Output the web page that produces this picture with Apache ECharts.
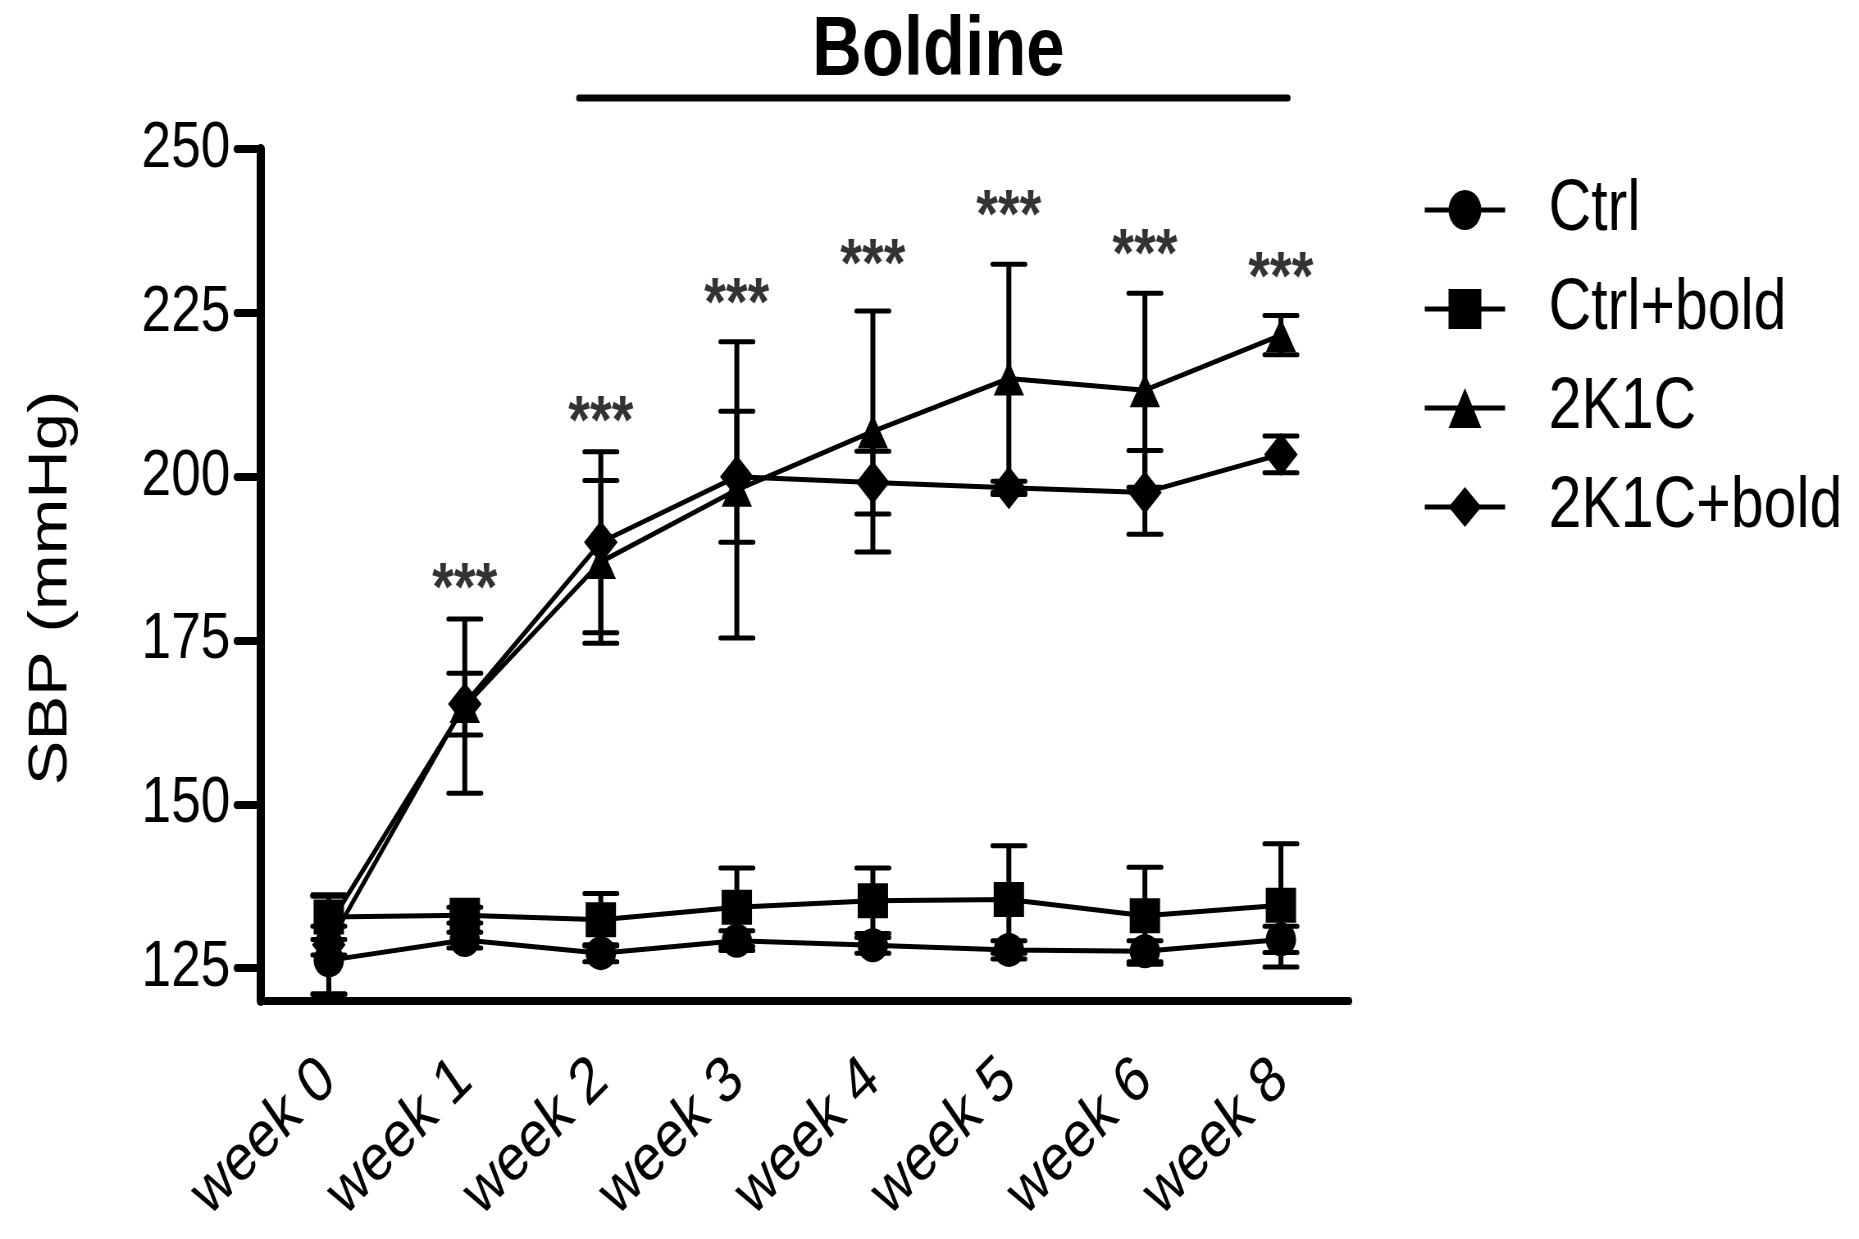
<!DOCTYPE html>
<html>
<head>
<meta charset="utf-8">
<script src="https://cdn.jsdelivr.net/npm/echarts@6.0.0/dist/echarts.min.js"></script>
<style>
html, body { margin: 0; padding: 0; background: #fff; overflow: hidden; width: 1859px; height: 1239px; }
/* the source figure is squeezed horizontally, so draw wide and squeeze */
#main { width: 2267px; height: 1239px; transform: scaleX(0.82); transform-origin: 0 0; }
</style>
</head>
<body>
<div id="main"></div>
<script>
let weeks = ['week 0', 'week 1', 'week 2', 'week 3', 'week 4', 'week 5', 'week 6', 'week 8'];
let yTicks = [125, 150, 175, 200, 225, 250];

// SBP means and SEM, mmHg
let ctrl = [126.2, 129.3, 127.3, 129.2, 128.5, 127.8, 127.6, 129.4];
let ctrlSem = [5.2, 1.2, 1.3, 1.5, 1.2, 1.4, 1.6, 2.0];
let ctrlBold = [132.8, 133.1, 132.4, 134.3, 135.3, 135.5, 133.0, 134.6];
let ctrlBoldSem = [3.4, 1.2, 4.0, 6.0, 5.0, 8.2, 7.4, 9.4];
let k2c = [131.5, 165.0, 187.0, 198.0, 206.9, 215.0, 213.2, 221.6];
let k2cSem = [4.5, 13.3, 12.4, 22.6, 18.4, 17.4, 14.8, 3.0];
let k2cBold = [128.6, 165.3, 190.0, 200.0, 199.1, 198.3, 197.6, 203.4];
let k2cBoldSem = [7.5, 4.7, 13.8, 10.0, 4.8, 1.0, 6.4, 2.8];

// where the *** marks sit (y value), none at week 0
let stars = ['-', 182.5, 208, 226, 232, 239.5, 233.5, 230];

let chartDom = document.getElementById('main');
let myChart = echarts.init(chartDom);
let option;

function errData(means, sems) {
    return means.map(function (m, i) { return [i, m, sems[i]]; });
}

function renderErr(params, api) {
    let i = api.value(0), m = api.value(1), e = api.value(2);
    let hi = api.coord([i, m + e]);
    let lo = api.coord([i, m - e]);
    let half = 20;
    let cap = { stroke: '#000', lineWidth: 5, lineCap: 'round' };
    return {
        type: 'group',
        children: [
            { type: 'line', shape: { x1: hi[0], y1: hi[1], x2: lo[0], y2: lo[1] }, style: { stroke: '#000', lineWidth: 6 } },
            { type: 'line', shape: { x1: hi[0] - half, y1: hi[1], x2: hi[0] + half, y2: hi[1] }, style: cap },
            { type: 'line', shape: { x1: lo[0] - half, y1: lo[1], x2: lo[0] + half, y2: lo[1] }, style: cap }
        ]
    };
}

function errSeries(name, means, sems) {
    return {
        name: name,
        type: 'custom',
        renderItem: renderErr,
        data: errData(means, sems),
        z: 1,
        silent: true
    };
}

function lineSeries(name, values, symbol, size) {
    return {
        name: name,
        type: 'line',
        data: values,
        symbol: symbol,
        symbolSize: size,
        showAllSymbol: true,
        itemStyle: { color: '#000' },
        lineStyle: { color: '#000', width: 5 },
        z: 3
    };
}

option = {
    animation: false,
    backgroundColor: '#fff',
    textStyle: { fontFamily: "'Liberation Sans', Arial, sans-serif", color: '#000' },
    grid: { left: 318, right: 622, top: 149, bottom: 238, outerBoundsMode: 'none' },
    legend: {
        data: ['Ctrl', 'Ctrl+bold', '2K1C', '2K1C+bold'],
        orient: 'vertical',
        left: 1735,
        top: 174,
        padding: 0,
        itemWidth: 98,
        itemHeight: 50,
        itemGap: 27,
        selectedMode: false,
        lineStyle: { width: 5, color: '#000' },
        itemStyle: { color: '#000' },
        textStyle: { fontSize: 72, color: '#000', padding: [0, 0, 0, 48] }
    },
    xAxis: {
        type: 'category',
        data: weeks,
        boundaryGap: true,
        axisLine: { lineStyle: { color: '#000', width: 8, cap: 'round' } },
        axisTick: { alignWithLabel: true, length: 27, lineStyle: { color: '#000', width: 10, cap: 'round' } },
        axisLabel: { rotate: 40, fontSize: 65, color: '#000', margin: 70, interval: 0 },
        splitLine: { show: false }
    },
    yAxis: {
        type: 'value',
        min: 120,
        max: 250,
        name: 'SBP (mmHg)',
        nameLocation: 'middle',
        nameGap: 222,
        nameTextStyle: { fontSize: 67, color: '#000', padding: [0, 26, 0, 0] },
        axisLine: { show: true, lineStyle: { color: '#000', width: 10 } },
        axisTick: { show: true, length: 29, customValues: yTicks, lineStyle: { color: '#000', width: 8, cap: 'round' } },
        axisLabel: { fontSize: 65, color: '#000', margin: 37, customValues: yTicks },
        splitLine: { show: false }
    },
    series: [
        errSeries('Ctrl err', ctrl, ctrlSem),
        errSeries('Ctrl+bold err', ctrlBold, ctrlBoldSem),
        errSeries('2K1C err', k2c, k2cSem),
        errSeries('2K1C+bold err', k2cBold, k2cBoldSem),
        lineSeries('Ctrl', ctrl, 'circle', [37, 34]),
        lineSeries('Ctrl+bold', ctrlBold, 'rect', [37, 35]),
        lineSeries('2K1C', k2c, 'triangle', [37, 34]),
        lineSeries('2K1C+bold', k2cBold, 'diamond', [41, 43]),
        {
            name: 'stars',
            type: 'scatter',
            data: stars,
            symbolSize: 1,
            itemStyle: { color: 'rgba(0,0,0,0)' },
            label: { show: true, position: 'inside', formatter: '***', fontSize: 68, fontWeight: 'bold', color: '#000' },
            silent: true,
            z: 4
        }
    ]
};

myChart.setOption(option);

// treatment bar: "Boldine" over weeks 2 to 8
let band = myChart.convertToPixel({ xAxisIndex: 0 }, 'week 1') - myChart.convertToPixel({ xAxisIndex: 0 }, 'week 0');
let barStart = myChart.convertToPixel({ xAxisIndex: 0 }, 'week 2') - 0.16 * band;
let barEnd = myChart.convertToPixel({ xAxisIndex: 0 }, 'week 8') + 0.05 * band;
myChart.setOption({
    graphic: [
        {
            type: 'line',
            shape: { x1: barStart, y1: 98, x2: barEnd, y2: 98 },
            style: { stroke: '#000', lineWidth: 7, lineCap: 'round' }
        },
        {
            type: 'text',
            x: (barStart + barEnd) / 2 + 6,
            y: 52,
            style: {
                text: 'Boldine',
                fontSize: 84,
                fontWeight: 'bold',
                fontFamily: "'Liberation Sans', Arial, sans-serif",
                fill: '#000',
                textAlign: 'center',
                textVerticalAlign: 'middle'
            }
        }
    ]
});
</script>
</body>
</html>
